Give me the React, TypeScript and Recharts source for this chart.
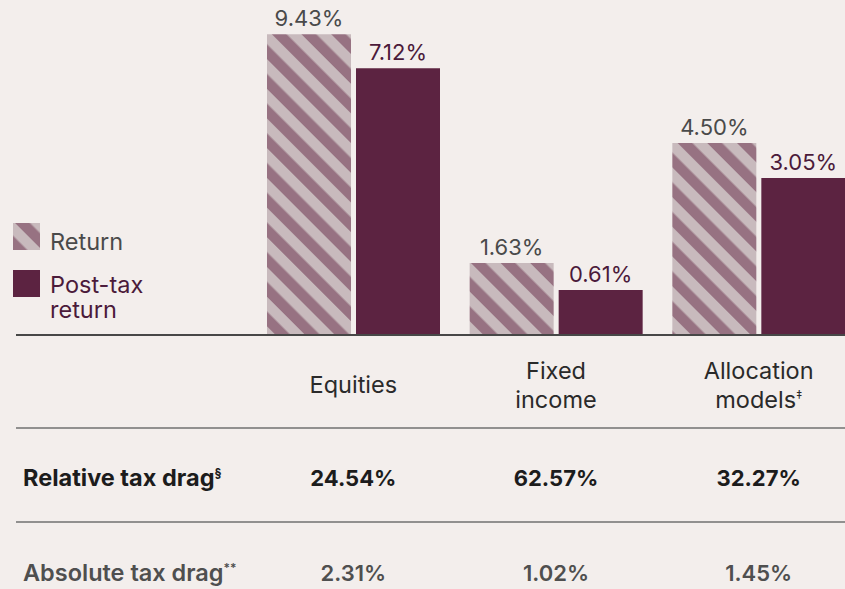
import React from 'react';
import { BarChart, Bar, XAxis, YAxis, LabelList } from 'recharts';

const categories = ['Equities', 'Fixed income', 'Allocation models'];
const headerLines = [['Equities'], ['Fixed', 'income'], ['Allocation', 'models']];
const headerMarks = ['', '', '‡'];
const returnPct = [9.43, 1.63, 4.5];
const postTaxPct = [7.12, 0.61, 3.05];
// bars in the original are not drawn to scale, so heights are read off the picture
const returnBarHeight = [9.43, 2.26, 6.02];
const postTaxBarHeight = [8.36, 1.41, 4.92];
const relativeDrag = [24.54, 62.57, 32.27];
const absoluteDrag = [2.31, 1.02, 1.45];

const BG = '#f3eeec';
const LIGHT = '#c8babd';
const DARK = '#977282';
const PLUM = '#5c2341';
const FONT = 'Inter, "Noto Sans", sans-serif';
const WORD = 23.5;

const data = categories.map((c, i) => ({
  name: c,
  ret: returnBarHeight[i],
  post: postTaxBarHeight[i],
  retLabel: returnPct[i],
  postLabel: postTaxPct[i],
}));

const pct = (v: any) => `${Number(v).toFixed(2)}%`;

function CategoryTick(props: any) {
  const { x, y, payload } = props;
  const i = payload.index;
  const lines = headerLines[i];
  const top = lines.length === 1 ? 58 : 44;
  return (
    <g fontFamily={FONT} textAnchor="middle">
      {lines.map((l, k) => (
        <text key={k} x={x} y={y + top + k * 29} fill="#2a2a2a" fontSize={WORD}>
          {l}
          {k === lines.length - 1 && headerMarks[i] ? (
            <tspan fontSize={12} dy={-9}>{headerMarks[i]}</tspan>
          ) : null}
        </text>
      ))}
      <text x={x} y={y + 151} fill="#1c1c1c" fontWeight={700} fontSize={22}>{pct(relativeDrag[i])}</text>
      <text x={x} y={y + 246} fill="#4f4f4f" fontWeight={600} fontSize={22}>{pct(absoluteDrag[i])}</text>
    </g>
  );
}

export default function App() {
  return (
    <div style={{ position: 'fixed', left: 0, top: 0, width: 845, height: 589, overflow: 'hidden', background: BG }}>
      <BarChart width={860} height={589} data={data} margin={{ top: 16, right: 0, bottom: 0, left: 252 }} barSize={84} barGap={5}>
        <defs>
          <pattern id="hatch" patternUnits="userSpaceOnUse" width={21} height={21} patternTransform="rotate(-45)">
            <rect width={21} height={21} fill={LIGHT} />
            <rect width={10.5} height={21} fill={DARK} />
          </pattern>
        </defs>
        <YAxis hide domain={[0, 10]} />
        <XAxis dataKey="name" height={254} axisLine={false} tickLine={false} tickSize={0} tickMargin={0}
          interval={0} tick={<CategoryTick />} />
        <Bar dataKey="ret" fill="url(#hatch)" isAnimationActive={false}>
          <LabelList dataKey="retLabel" position="top" offset={8} formatter={pct}
            style={{ fill: '#4a4a4a', fontSize: 22, fontFamily: FONT }} />
        </Bar>
        <Bar dataKey="post" fill={PLUM} isAnimationActive={false}>
          <LabelList dataKey="postLabel" position="top" offset={8} formatter={pct}
            style={{ fill: '#4b1a3a', fontSize: 22, fontFamily: FONT }} />
        </Bar>
      </BarChart>
      <svg width={845} height={589} style={{ position: 'absolute', left: 0, top: 0, pointerEvents: 'none' }}>
        <defs>
          <pattern id="hatchKey" patternUnits="userSpaceOnUse" width={21} height={21} patternTransform="rotate(-45)">
            <rect width={21} height={21} fill={LIGHT} />
            <rect width={10.5} height={21} fill={DARK} />
          </pattern>
        </defs>
        <line x1={16} x2={845} y1={335} y2={335} stroke="#474747" strokeWidth={2} />
        <line x1={16} x2={845} y1={428} y2={428} stroke="#707070" strokeWidth={1.5} />
        <line x1={16} x2={845} y1={522} y2={522} stroke="#707070" strokeWidth={1.5} />
        <g fontFamily={FONT} fontSize={WORD}>
          <rect x={13} y={223} width={27} height={27} fill="url(#hatchKey)" />
          <text x={50} y={250} fill="#4a4a4a">Return</text>
          <rect x={13} y={270} width={27} height={27} fill={PLUM} />
          <text x={50} y={293} fill="#4b1a3a">Post-tax</text>
          <text x={50} y={318} fill="#4b1a3a">return</text>
          <text x={23} y={486} fill="#1c1c1c" fontWeight={700}>
            Relative tax drag<tspan fontSize={12} dy={-9}>§</tspan>
          </text>
          <text x={23} y={581} fill="#4f4f4f" fontWeight={600}>
            Absolute tax drag<tspan fontSize={12} dy={-9}>**</tspan>
          </text>
        </g>
      </svg>
    </div>
  );
}
